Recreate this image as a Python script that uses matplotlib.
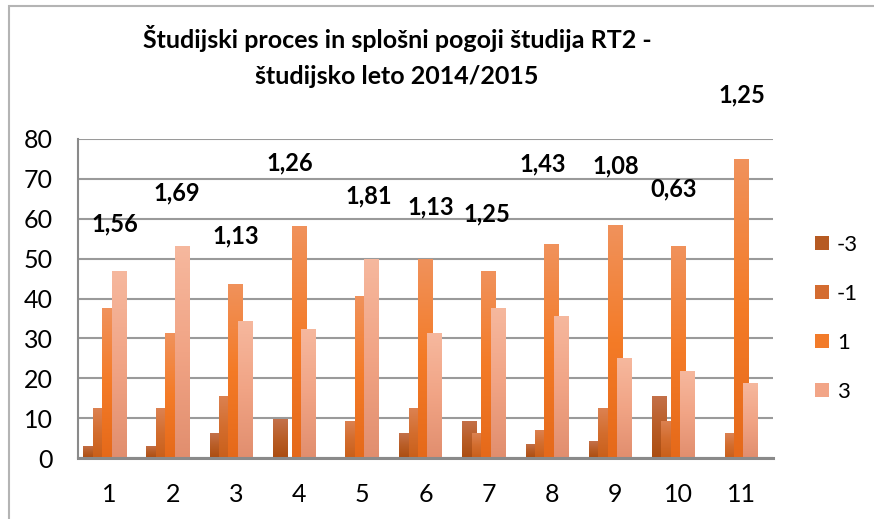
import matplotlib
matplotlib.use('Agg')
import matplotlib.pyplot as plt
from matplotlib.colors import LinearSegmentedColormap
from matplotlib.patches import Patch, Rectangle
import numpy as np

plt.rcParams['font.family'] = ['Lato', 'DejaVu Sans']

# data (percent of answers per grade, for each of 11 questions)
questions = ['1', '2', '3', '4', '5', '6', '7', '8', '9', '10', '11']
series_names = ['-3', '-1', '1', '3']
grade_m3 = [3.13, 3.13, 6.25, 9.68, 0, 6.25, 9.38, 3.57, 4.17, 15.63, 0]
grade_m1 = [12.5, 12.5, 15.63, 0, 9.38, 12.5, 6.25, 7.14, 12.5, 9.38, 6.25]
grade_p1 = [37.5, 31.25, 43.75, 58.06, 40.63, 50.0, 46.88, 53.57, 58.33, 53.13, 75.0]
grade_p3 = [46.88, 53.13, 34.38, 32.26, 50.0, 31.25, 37.5, 35.71, 25.0, 21.88, 18.75]
averages = ['1,56', '1,69', '1,13', '1,26', '1,81', '1,13', '1,25', '1,43', '1,08', '0,63', '1,25']
# where the average labels sit (category offset, y value) as in the original
avg_x = [0.08, 1.06, 2.0, 2.86, 4.1, 5.09, 5.98, 6.86, 8.01, 8.93, 10.01]
avg_y = [58.6, 66.4, 55.7, 74.1, 65.7, 63.0, 61.1, 73.7, 73.2, 67.6, 91.1]

all_series = [grade_m3, grade_m1, grade_p1, grade_p3]
# bottom -> top gradient colours per series
grads = [
    ['#ab4d10', '#b95d26', '#c4714a'],
    ['#c95f1a', '#d36d2e', '#dc8252'],
    ['#e5691a', '#f47b27', '#f0925c'],
    ['#e18e6e', '#f1a485', '#f6b89e'],
]
legend_cols = ['#b65a22', '#d46c30', '#f27b2a', '#f2a587']

fig = plt.figure(figsize=(8.74, 5.19), dpi=100)
ax = fig.add_axes([78 / 874, 1 - 458 / 519, 695 / 874, 319 / 519])

x = np.arange(len(questions))
width = 0.237
step = 0.149
start = -0.416
grad_img = np.linspace(0, 1, 256).reshape(-1, 1)

for k, vals in enumerate(all_series):
    cmap = LinearSegmentedColormap.from_list('s%d' % k, grads[k])
    bars = ax.bar(x + start + k * step, vals, width=width, align='edge',
                  facecolor='none', edgecolor='none', zorder=3 + k)
    for b in bars:
        if b.get_height() <= 0:
            continue
        x0, y0 = b.get_x(), b.get_y()
        im = ax.imshow(grad_img, cmap=cmap, origin='lower', aspect='auto',
                       extent=[x0, x0 + b.get_width(), y0, y0 + b.get_height()],
                       zorder=3 + k, interpolation='bilinear')
        im.set_clip_path(b)

for xx, yy, t in zip(avg_x, avg_y, averages):
    ax.text(xx, yy, t, ha='center', va='center', fontsize=17,
            fontweight='bold', color='black', zorder=10, clip_on=False)

ax.set_xlim(-0.5, 10.5)
ax.set_ylim(0, 80)
ax.set_yticks(range(0, 81, 10))
ax.set_xticks(x)
ax.set_xticklabels(questions)
ax.tick_params(axis='both', length=0, labelsize=18)
ax.tick_params(axis='y', pad=18)
ax.tick_params(axis='x', pad=18)
ax.yaxis.grid(True, color='#9a9a9a', linewidth=1.5)
ax.set_axisbelow(True)
for s in ['top', 'right']:
    ax.spines[s].set_visible(False)
ax.spines['left'].set_color('#8a8a8a')
ax.spines['left'].set_linewidth(1.5)
ax.spines['bottom'].set_color('#8a8a8a')
ax.spines['bottom'].set_linewidth(2.2)
ax.spines['bottom'].set_zorder(20)

fig.text(397 / 874, 1 - 39 / 519, 'Študijski proces in splošni pogoji študija RT2 -',
         ha='center', va='center', fontsize=18, fontweight='bold')
fig.text(397 / 874, 1 - 76 / 519, 'študijsko leto 2014/2015',
         ha='center', va='center', fontsize=18, fontweight='bold')

handles = [Patch(facecolor=c, edgecolor='none') for c in legend_cols]
fig.legend(handles, series_names, loc='upper left',
           bbox_to_anchor=(815 / 874, 1 - 235 / 519), frameon=False,
           fontsize=16, handlelength=0.63, handleheight=0.63,
           handletextpad=0.35, labelspacing=1.3, borderpad=0, borderaxespad=0)

# outer chart frame
fig.patches.append(Rectangle((9 / 874, -0.1), 1.2, 1.1 - 6.5 / 519,
                             transform=fig.transFigure, fill=False,
                             edgecolor='#b4b4b4', linewidth=1.5))

fig.savefig('out.png', dpi=100)
